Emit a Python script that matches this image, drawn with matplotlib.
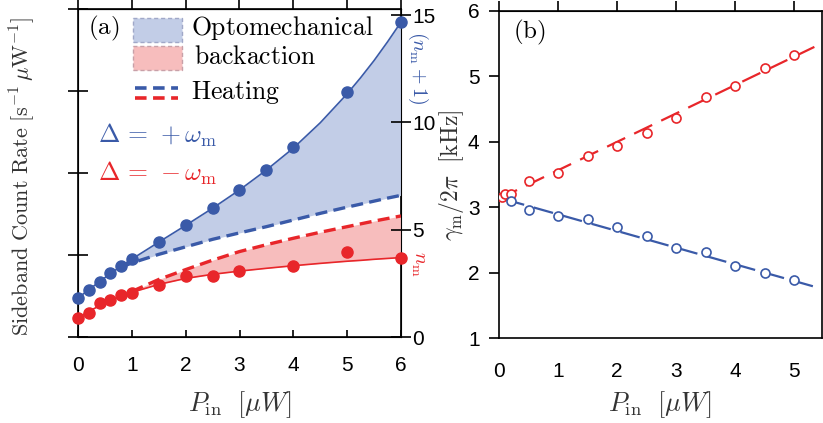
import matplotlib.pyplot as plt
from matplotlib.patches import Rectangle
from matplotlib.lines import Line2D
import numpy as np

plt.rcParams['mathtext.fontset'] = 'cm'
plt.rcParams['font.family'] = 'Liberation Sans'

blue = '#3a5aa8'
red = '#e8262a'
blue_fill = '#c2cde7'
red_fill = '#f7bdbd'

# ---- panel (a): sideband data, in units of the right axis (n_m)
p_blue = [0, 0.2, 0.4, 0.6, 0.8, 1, 1.5, 2, 2.5, 3, 3.5, 4, 5, 6]
n_blue = [1.82, 2.19, 2.56, 2.98, 3.31, 3.63, 4.42, 5.22, 6.0, 6.85, 7.78, 8.85, 11.4, 14.67]
p_red = [0, 0.2, 0.4, 0.6, 0.8, 1, 1.5, 2, 2.5, 3, 4, 5, 6]
n_red = [0.89, 1.12, 1.58, 1.72, 1.96, 2.05, 2.42, 2.84, 2.86, 3.07, 3.31, 3.96, 3.69]

# fitted curves
p_fit = [0, 0.2, 0.4, 0.6, 0.8, 1, 1.5, 2, 2.5, 3, 3.5, 4, 4.5, 5, 5.25, 5.5, 5.75, 6]
fit_blue = [1.82, 2.2, 2.58, 2.95, 3.3, 3.63, 4.42, 5.2, 6.0, 6.85, 7.78, 8.8, 9.98,
            11.33, 12.08, 12.88, 13.75, 14.67]
fit_red = [0.89, 1.2, 1.45, 1.7, 1.9, 2.08, 2.45, 2.73, 2.92, 3.07, 3.2, 3.32, 3.43,
           3.53, 3.57, 3.62, 3.66, 3.70]
# heating-only curves (start at index 4 / 5 of p_fit)
heat_blue = [3.25, 3.45, 3.85, 4.2, 4.55, 4.85, 5.14, 5.45, 5.76, 6.05, 6.19, 6.33, 6.47, 6.6]
heat_red = [2.12, 2.68, 3.14, 3.58, 3.98, 4.3, 4.6, 4.88, 5.14, 5.27, 5.4, 5.52, 5.64]

# ---- panel (b): damping rate
pb_red = [0.05, 0.1, 0.2, 0.5, 1, 1.5, 2, 2.5, 3, 3.5, 4, 4.5, 5]
g_red = [3.15, 3.20, 3.20, 3.40, 3.53, 3.79, 3.94, 4.14, 4.36, 4.69, 4.85, 5.13, 5.32]
pb_blue = [0.2, 0.5, 1, 1.5, 2, 2.5, 3, 3.5, 4, 4.5, 5]
g_blue = [3.09, 2.95, 2.86, 2.82, 2.69, 2.56, 2.38, 2.31, 2.10, 2.00, 1.89]
line_red_x = [0, 5.5]
line_red_y = [3.13, 5.52]
line_blue_x = [0.1, 5.36]
line_blue_y = [3.12, 1.78]

W, H = 823, 423
fig = plt.figure(figsize=(W / 100, H / 100), dpi=100)


def fx(x):
    return x / W


def fy(y):
    return 1 - y / H


# ---------------- panel (a)
ax = fig.add_axes([fx(78), fy(337), fx(401 - 78), (337 - 9) / H])
ax.set_xlim(0, 6)
ax.set_ylim(0, 4)
ax.set_yticks([0, 1, 2, 3, 4])
ax.set_yticklabels([])
ax.set_xticks(range(7))
ax.tick_params(axis='x', direction='in', length=5, width=1.2, labelsize=15, pad=14,
               top=False)
ax.tick_params(axis='y', direction='inout', length=14, width=1.2)
for s in ax.spines.values():
    s.set_linewidth(1.2)
secx = ax.secondary_xaxis('top')
secx.set_xticks(range(7))
secx.tick_params(direction='out', length=8, width=1.2, labeltop=False)

ax2 = ax.twinx()
ax2.set_ylim(0, 15.28)
ax2.set_yticks([0, 5, 10, 15])
ax2.tick_params(axis='y', direction='inout', length=14, width=1.2, labelsize=15, pad=1)

pf = np.array(p_fit)
ax2.fill_between(pf[4:], np.array(fit_blue)[4:], heat_blue, color=blue_fill, lw=0)
ax2.fill_between(pf[5:], heat_red, np.array(fit_red)[5:], color=red_fill, lw=0)
ax2.plot(p_fit, fit_blue, color=blue, lw=1.2)
ax2.plot(p_fit, fit_red, color=red, lw=1.2)
ax2.plot(pf[4:], heat_blue, color=blue, lw=2.4, dashes=(3.6, 1.9))
ax2.plot(pf[5:], heat_red, color=red, lw=2.4, dashes=(3.6, 1.9))
ax2.plot(p_blue, n_blue, 'o', color=blue, ms=8, clip_on=False, zorder=5)
ax2.plot(p_red, n_red, 'o', color=red, ms=8, clip_on=False, zorder=5)

# legend-like annotations
fig.patches.append(Rectangle((fx(133), fy(42)), fx(49), 24 / H, transform=fig.transFigure,
                             facecolor=blue_fill, edgecolor='#a0a8c8', ls=(0, (3, 2)), lw=1))
fig.patches.append(Rectangle((fx(133), fy(70)), fx(49), 24 / H, transform=fig.transFigure,
                             facecolor=red_fill, edgecolor='#c8a0a8', ls=(0, (3, 2)), lw=1))
fig.lines.append(Line2D([fx(135), fx(178)], [fy(88), fy(88)], transform=fig.transFigure,
                        color=blue, lw=2.6, dashes=(3.2, 1.8)))
fig.lines.append(Line2D([fx(135), fx(178)], [fy(98), fy(98)], transform=fig.transFigure,
                        color=red, lw=2.6, dashes=(3.2, 1.8)))
fig.text(fx(191), fy(28), r'$\mathrm{Optomechanical}$', fontsize=18.5, va='center')
fig.text(fx(194), fy(57), r'$\mathrm{backaction}$', fontsize=18.5, va='center')
fig.text(fx(191), fy(92), r'$\mathrm{Heating}$', fontsize=18.5, va='center')
fig.text(fx(88), fy(28), r'$\mathrm{(a)}$', fontsize=18, va='center')
fig.text(fx(98), fy(135), r'$\Delta\,=\,+\omega_{\rm m}$', fontsize=18.5, va='center',
         color=blue)
fig.text(fx(98), fy(173), r'$\Delta\,=\,-\omega_{\rm m}$', fontsize=18.5, va='center',
         color=red)
fig.text(fx(418), fy(68), r'$(n_{\rm m}+1)$', fontsize=14.5, va='center', ha='center',
         rotation=270, color=blue)
fig.text(fx(418), fy(264), r'$n_{\rm m}$', fontsize=14.5, va='center', ha='center',
         rotation=270, color=red)
fig.text(fx(22), fy(176), r'$\mathrm{Sideband\ Count\ Rate}\ [\mathrm{s}^{-1}\,\mu\mathrm{W}^{-1}]$',
         fontsize=16, rotation=90, va='center', ha='center', color='#333333')
fig.text(fx(240), fy(405), r'$P_{\rm in}\ \ [\mu W]$', fontsize=19, va='center',
         ha='center', color='#333333')

# ---------------- panel (b)
bx = fig.add_axes([fx(499), fy(338), fx(822 - 499), (338 - 11) / H])
bx.set_xlim(0, 5.47)
bx.set_ylim(1, 6)
bx.set_xticks(range(6))
bx.set_yticks(range(1, 7))
bx.tick_params(axis='y', direction='out', length=7, width=1.2, labelsize=15, pad=7)
bx.tick_params(axis='x', direction='in', length=0, width=1.2, labelsize=15, pad=17)
for s in bx.spines.values():
    s.set_linewidth(1.2)
secb = bx.secondary_xaxis('top')
secb.set_xticks(range(6))
secb.tick_params(direction='out', length=7, width=1.2, labeltop=False)

bx.plot(line_red_x, line_red_y, color=red, lw=1.6, dashes=(9, 4.5))
bx.plot(line_blue_x, line_blue_y, color=blue, lw=1.6, dashes=(9, 4.5))
bx.plot(pb_red, g_red, 'o', mfc='white', mec=red, mew=1.2, ms=6.5, zorder=5)
bx.plot(pb_blue, g_blue, 'o', mfc='white', mec=blue, mew=1.2, ms=6.5, zorder=5)

fig.text(fx(513), fy(32), r'$\mathrm{(b)}$', fontsize=18, va='center')
fig.text(fx(452), fy(175), r'$\gamma_{\rm m}/2\pi\ \ [\mathrm{kHz}]$', fontsize=17,
         rotation=90, va='center', ha='center', color='#333333')
fig.text(fx(660), fy(405), r'$P_{\rm in}\ \ [\mu W]$', fontsize=19, va='center',
         ha='center', color='#333333')

fig.savefig('out.png', dpi=100)
